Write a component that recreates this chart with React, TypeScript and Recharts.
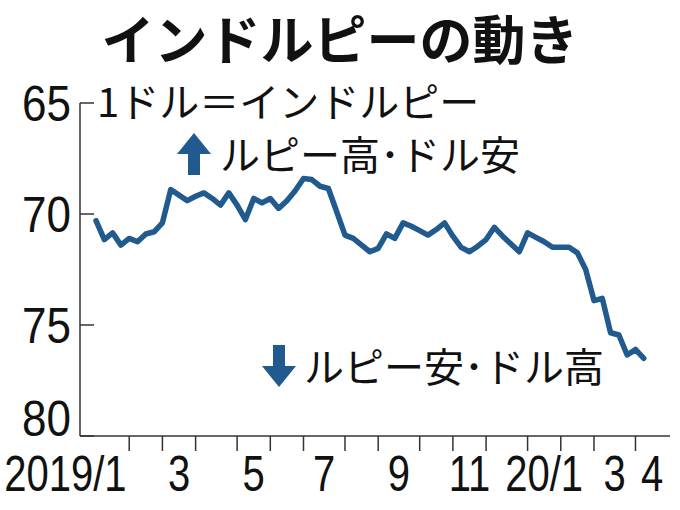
import React from "react";
import { LineChart, Line, XAxis, YAxis } from "recharts";

// weekly rupee per dollar (Mondays, from 2019-01-07)
const firstMonday = [2019, 0, 7];
const rates = [
    70.3, 71.15, 70.85, 71.4, 71.1, 71.25, 70.9, 70.8, 70.4, 68.9,
    69.15, 69.4, 69.2, 69.05, 69.3, 69.6, 69.05, 69.6, 70.25, 69.3,
    69.5, 69.3, 69.75, 69.4, 68.95, 68.4, 68.45, 68.75, 68.85, 69.9,
    70.95, 71.1, 71.4, 71.7, 71.55, 70.9, 71.1, 70.4, 70.55, 70.75,
    70.95, 70.7, 70.4, 71.0, 71.5, 71.7, 71.45, 71.15, 70.6, 71.0,
    71.35, 71.7, 70.85, 71.05, 71.25, 71.5, 71.5, 71.5, 71.75, 72.5,
    73.9, 73.8, 75.35, 75.45, 76.35, 76.1, 76.5,
];

const yTicks = [65, 70, 75, 80];
const labelMonths = ["2019-01", "2019-03", "2019-05", "2019-07", "2019-09", "2019-11", "2020-01", "2020-03", "2020-04"];
const labelTexts = ["2019/1", "3", "5", "7", "9", "11", "20/1", "3", "4"];

const LINE_COLOR = "#215a8e";
const AXIS_COLOR = "#333";
const NUM_FONT = "'Liberation Sans', Arial, sans-serif";
const JP_FONT = "'Noto Sans CJK JP', sans-serif";

const weeks = rates.map((_, i) =>
    new Date(Date.UTC(firstMonday[0], firstMonday[1], firstMonday[2] + 7 * i)).toISOString().slice(0, 10)
);
const data = rates.map((rate, i) => ({ i, week: weeks[i], rate }));

// index of first week in each month
const monthStart: Record<string, number> = {};
weeks.forEach((w, i) => {
    const m = w.slice(0, 7);
    if (monthStart[m] === undefined) monthStart[m] = i;
});
const months = Object.keys(monthStart);
const boundaryTicks = months.slice(1).map(m => monthStart[m]);
// labels sit in the middle of their month
const labelPos = labelMonths.map(m => {
    const k = months.indexOf(m);
    const s = monthStart[m];
    const e = k + 1 < months.length ? monthStart[months[k + 1]] : s + 4;
    return (s + e) / 2;
});
const xTicks = [...boundaryTicks, ...labelPos].sort((a, b) => a - b);

const YTick = (props: any) => {
    const { x, y, payload } = props;
    const last = payload.value === yTicks[yTicks.length - 1];
    return (
        <g>
            <path d={`M${x},${y}h14`} stroke={AXIS_COLOR} strokeWidth={1.5} fill="none" />
            <text
                transform={`translate(${x - 9},${last ? y : y + 18}) scale(0.88,1)`}
                textAnchor="end"
                fontFamily={NUM_FONT}
                fontSize={50}
                fill="#111"
            >
                {payload.value}
            </text>
        </g>
    );
};

const XTick = (props: any) => {
    const { x, y, payload } = props;
    const li = labelPos.indexOf(payload.value);
    if (li < 0) {
        // month boundary
        return <path d={`M${x},${y}v15`} stroke={AXIS_COLOR} strokeWidth={1.5} fill="none" />;
    }
    const first = li === 0;
    return (
        <text
            transform={`translate(${first ? x + 14 : x},${y + 55}) scale(0.8,1)`}
            textAnchor={first ? "end" : "middle"}
            fontFamily={NUM_FONT}
            fontSize={50}
            fill="#111"
        >
            {labelTexts[li]}
        </text>
    );
};

const App: React.FC = () => {
    return (
        <div style={{ position: "absolute", left: 0, top: 0, width: 680, height: 510, background: "#fff" }}>
            <LineChart width={680} height={510} data={data} margin={{ top: 103, right: 10, left: 0, bottom: 0 }}>
                <XAxis
                    dataKey="i"
                    type="number"
                    domain={[-1.93, 69.16]}
                    allowDataOverflow
                    ticks={xTicks}
                    interval={0}
                    height={74}
                    tickSize={0}
                    tickMargin={0}
                    tickLine={false}
                    axisLine={{ stroke: AXIS_COLOR, strokeWidth: 1.5 }}
                    tick={<XTick />}
                />
                <YAxis
                    width={80}
                    domain={[65, 80]}
                    reversed
                    ticks={yTicks}
                    interval={0}
                    tickSize={0}
                    tickMargin={0}
                    tickLine={false}
                    axisLine={{ stroke: AXIS_COLOR, strokeWidth: 1.5 }}
                    tick={<YTick />}
                />
                <Line
                    type="linear"
                    dataKey="rate"
                    stroke={LINE_COLOR}
                    strokeWidth={5.5}
                    strokeLinejoin="round"
                    strokeLinecap="round"
                    dot={false}
                    activeDot={false}
                    isAnimationActive={false}
                />
            </LineChart>

            <svg width={680} height={510} style={{ position: "absolute", left: 0, top: 0, pointerEvents: "none" }}>
                <text x={340} y={60} textAnchor="middle" fontFamily={JP_FONT} fontWeight="bold" fontSize={53} fill="#111">
                    インドルピーの動き
                </text>
                <text x={97} y={117} fontFamily={JP_FONT} fontSize={40} fill="#111">
                    1ドル＝インドルピー
                </text>

                {/* up arrow */}
                <path d="M177,154 L194,133 L211,154 L200,154 L200,175 L188,175 L188,154 Z" fill={LINE_COLOR} />
                <text x={220} y={170} fontFamily={JP_FONT} fontSize={40} fill="#111">
                    ルピー高･ドル安
                </text>

                {/* down arrow */}
                <path d="M273,345 L285,345 L285,366 L296,366 L279,387 L262,366 L273,366 Z" fill={LINE_COLOR} />
                <text x={304} y={382} fontFamily={JP_FONT} fontSize={40} fill="#111">
                    ルピー安･ドル高
                </text>
            </svg>
        </div>
    );
};

export default App;
